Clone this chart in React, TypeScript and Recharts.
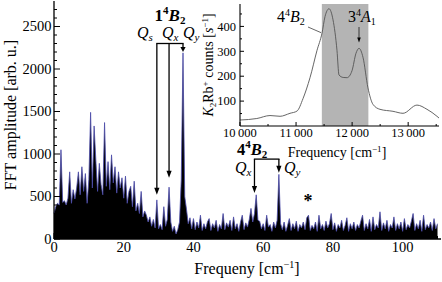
import {
  Area,
  ComposedChart,
  Line,
  LineChart,
  ReferenceArea,
  XAxis,
  YAxis,
} from "recharts";

// FFT spectrum, one value every 0.5 cm^-1 from 0 to 110
const fftStep = 0.5;
const fftAmplitude = [
  300, 380, 420, 400, 1050, 430, 450, 400, 480, 790, 420, 580, 470, 600, 790, 520, 850, 560, 770, 420,
  700, 1490, 600, 1330, 930, 560, 890, 640, 520, 1370, 620, 910, 580, 990, 660, 850, 540, 790, 600, 720,
  480, 740, 420, 560, 620, 380, 680, 330, 420, 300, 560, 260, 330, 280, 200, 260, 150, 230, 130, 460,
  120, 170, 110, 380, 150, 230, 610, 200, 90, 150, 60, 110, 200, 700, 2190, 500, 350, 180, 250, 120,
  240, 110, 200, 130, 280, 100, 180, 120, 200, 240, 100, 180, 130, 220, 90, 170, 120, 300, 110, 190,
  140, 220, 100, 260, 120, 180, 90, 200, 280, 110, 190, 140, 230, 360, 200, 300, 520, 220, 210, 120,
  180, 100, 280, 140, 170, 90, 200, 130, 220, 760, 180, 110, 200, 90, 160, 240, 100, 180, 120, 210,
  90, 170, 130, 200, 110, 250, 280, 100, 160, 120, 200, 90, 280, 120, 170, 100, 210, 130, 180, 300,
  110, 190, 90, 170, 130, 220, 100, 160, 250, 90, 180, 120, 200, 100, 170, 130, 210, 280, 100, 180,
  120, 230, 90, 260, 110, 170, 130, 320, 100, 190, 120, 220, 90, 170, 130, 260, 100, 180, 120, 200,
  90, 240, 110, 170, 130, 210, 300, 100, 180, 120, 220, 90, 280, 110, 170, 130, 200, 100, 240, 120, 180,
];
const fftXTicks = [0, 5, 10, 15, 20, 25, 30, 35, 40, 45, 50, 55, 60, 65, 70, 75, 80, 85, 90, 95, 100, 105, 110];
const fftXMajor = [0, 20, 40, 60, 80, 100];
const fftYTicks = [0, 100, 200, 300, 400, 500, 600, 700, 800, 900, 1000, 1100, 1200, 1300, 1400, 1500, 1600, 1700, 1800, 1900, 2000, 2100, 2200, 2300, 2400, 2500, 2600, 2700];
const fftYMajor = [0, 500, 1000, 1500, 2000, 2500];

// inset: ion signal vs laser frequency
const insetFreq = [10000, 10300, 10535, 10714, 10892, 11017, 11124, 11249, 11374, 11463, 11516, 11588, 11659, 11730, 11766, 11840, 11909, 11998, 12069, 12123, 12194, 12283, 12372, 12497, 12729, 12908, 13157, 13336, 13514, 13550];
const insetCounts = [24, 30, 42, 39, 51, 60, 110, 194, 304, 373, 439, 471, 427, 304, 205, 195, 194, 222, 292, 312, 276, 153, 87, 67, 59, 51, 84, 67, 39, 32];
const insetXTicks = [10000, 10500, 11000, 11500, 12000, 12500, 13000, 13500];
const insetXMajor = [10000, 11000, 12000, 13000];
const insetYTicks = [50, 100, 150, 200, 250, 300, 350, 400, 450];
const insetYMajor = [100, 200, 300, 400];
const insetBand = [11460, 12290];

const fftData = fftAmplitude.map((amp, i) => ({ f: i * fftStep, amp }));
const insetData = insetFreq.map((f, i) => ({ f, c: insetCounts[i] }));

const serif = "Liberation Serif, serif";

// layout of the main plot and the inset (used by annotations)
const main = { left: 54, top: 1, width: 387, height: 238, xMax: 111, yMax: 2800 };
const inset = { left: 240, top: 4, width: 199, height: 122, x0: 10000, x1: 13550, yMax: 490 };
const mx = (f: number) => main.left + (f / main.xMax) * main.width;
const my = (v: number) => main.top + (1 - v / main.yMax) * main.height;
const ix = (f: number) => inset.left + ((f - inset.x0) / (inset.x1 - inset.x0)) * inset.width;
const iy = (v: number) => inset.top + (1 - v / inset.yMax) * inset.height;

const makeTick =
  (
    side: "bottom" | "top" | "left" | "right",
    majors: number[],
    majorLen: number,
    minorLen: number,
    label?: (v: number) => string,
    fontSize = 14,
    gap = 2
  ) =>
  (props: any) => {
    const { x, y, payload } = props;
    const v = payload.value;
    const isMajor = majors.includes(v);
    const len = isMajor ? majorLen : minorLen;
    let line;
    if (side === "bottom") line = <line x1={x} x2={x} y1={y} y2={y - len} stroke="#000" />;
    else if (side === "top") line = <line x1={x} x2={x} y1={y} y2={y + len} stroke="#000" />;
    else if (side === "left") line = <line x1={x} x2={x + len} y1={y} y2={y} stroke="#000" />;
    else line = <line x1={x} x2={x - len} y1={y} y2={y} stroke="#000" />;
    let txt = null;
    if (label && isMajor) {
      if (side === "bottom")
        txt = (
          <text x={x} y={y + gap + fontSize * 0.72} textAnchor="middle" fontSize={fontSize} fontFamily={serif} fill="#000">
            {label(v)}
          </text>
        );
      else if (side === "left")
        txt = (
          <text x={x - gap} y={y + fontSize * 0.34} textAnchor="end" fontSize={fontSize} fontFamily={serif} fill="#000">
            {label(v)}
          </text>
        );
    }
    return (
      <g>
        {line}
        {txt}
      </g>
    );
  };

const Arrow = ({ x, y1, y2, w = 1.3, head = 7, half = 2.6 }: any) => (
  <g>
    <line x1={x} x2={x} y1={y1} y2={y2 - head + 1} stroke="#000" strokeWidth={w} />
    <path d={`M${x - half},${y2 - head} L${x + half},${y2 - head} L${x},${y2} Z`} fill="#000" />
  </g>
);

const thin = "\u2009";

const App = () => {
  const axisLine = { stroke: "#000", strokeWidth: 1.3 };
  const insetAxisLine = { stroke: "#000", strokeWidth: 1.1 };
  return (
    <div style={{ position: "relative", width: 442, height: 282, background: "#fff", fontFamily: serif }}>
      <style>{`body{margin:0}`}</style>
      <div style={{ position: "absolute", left: 0, top: 0 }}>
        <ComposedChart width={442} height={282} data={fftData} margin={{ top: 1, right: 1, bottom: 0, left: 0 }}>
          <XAxis
            xAxisId="b"
            dataKey="f"
            type="number"
            domain={[0, main.xMax]}
            ticks={fftXTicks}
            interval={0}
            height={43}
            tickSize={0}
            tickMargin={0}
            tickLine={false}
            axisLine={axisLine}
            tick={makeTick("bottom", fftXMajor, 6, 3, (v) => String(v), 14.5, 3)}
          />
          <XAxis
            xAxisId="t"
            orientation="top"
            dataKey="f"
            type="number"
            domain={[0, main.xMax]}
            ticks={fftXTicks}
            interval={0}
            height={0}
            tickSize={0}
            tickMargin={0}
            tickLine={false}
            axisLine={axisLine}
            tick={makeTick("top", fftXMajor, 6, 3)}
          />
          <YAxis
            yAxisId="l"
            type="number"
            domain={[0, main.yMax]}
            ticks={fftYTicks}
            interval={0}
            width={54}
            tickSize={0}
            tickMargin={0}
            tickLine={false}
            axisLine={axisLine}
            tick={makeTick("left", fftYMajor, 6, 3, (v) => String(v), 14.5, 2.5)}
          />
          <YAxis
            yAxisId="r"
            orientation="right"
            type="number"
            domain={[0, main.yMax]}
            ticks={fftYTicks}
            interval={0}
            width={0}
            tickSize={0}
            tickMargin={0}
            tickLine={false}
            axisLine={axisLine}
            tick={makeTick("right", fftYMajor, 6, 3)}
          />
          <Area
            xAxisId="b"
            yAxisId="l"
            type="linear"
            dataKey="amp"
            stroke="#4a4aaa"
            strokeWidth={0.8}
            fill="#000"
            fillOpacity={1}
            dot={false}
            activeDot={false}
            isAnimationActive={false}
          />
        </ComposedChart>
      </div>

      <div style={{ position: "absolute", left: 200, top: 0 }}>
        <LineChart width={242} height={165} data={insetData} margin={{ top: 4, right: 3, bottom: 0, left: 0 }}>
          <XAxis
            xAxisId="b"
            dataKey="f"
            type="number"
            domain={[inset.x0, inset.x1]}
            ticks={insetXTicks}
            interval={0}
            height={39}
            tickSize={0}
            tickMargin={0}
            tickLine={false}
            axisLine={insetAxisLine}
            tick={makeTick("bottom", insetXMajor, 4, 2, (v) => String(v).replace(/(\d)(\d{3})$/, `$1${thin}$2`), 12.5, 2)}
          />
          <XAxis
            xAxisId="t"
            orientation="top"
            dataKey="f"
            type="number"
            domain={[inset.x0, inset.x1]}
            ticks={insetXTicks}
            interval={0}
            height={0}
            tickSize={0}
            tickMargin={0}
            tickLine={false}
            axisLine={insetAxisLine}
            tick={makeTick("top", insetXMajor, 4, 2)}
          />
          <YAxis
            yAxisId="l"
            type="number"
            domain={[0, inset.yMax]}
            ticks={insetYTicks}
            interval={0}
            width={40}
            tickSize={0}
            tickMargin={0}
            tickLine={false}
            axisLine={insetAxisLine}
            tick={makeTick("left", insetYMajor, 4, 2, (v) => String(v), 12.5, 4)}
          />
          <YAxis
            yAxisId="r"
            orientation="right"
            type="number"
            domain={[0, inset.yMax]}
            ticks={insetYTicks}
            interval={0}
            width={0}
            tickSize={0}
            tickMargin={0}
            tickLine={false}
            axisLine={insetAxisLine}
            tick={makeTick("right", insetYMajor, 4, 2)}
          />
          <ReferenceArea xAxisId="b" yAxisId="l" x1={inset.x0} x2={inset.x1} y1={0} y2={inset.yMax} fill="#fff" fillOpacity={1} stroke="none" />
          <ReferenceArea xAxisId="b" yAxisId="l" x1={insetBand[0]} x2={insetBand[1]} y1={0} y2={inset.yMax} fill="#b4b4b4" fillOpacity={1} stroke="none" />
          <Line
            xAxisId="b"
            yAxisId="l"
            type="monotone"
            dataKey="c"
            stroke="#555"
            strokeWidth={0.9}
            dot={false}
            activeDot={false}
            isAnimationActive={false}
          />
        </LineChart>
      </div>

      <svg width={442} height={282} style={{ position: "absolute", left: 0, top: 0, pointerEvents: "none" }} fontFamily={serif}>
        {/* axis titles */}
        <text x={247} y={274} textAnchor="middle" fontSize={16}>
          Frequeny [cm<tspan fontSize={10} dy={-6}>−1</tspan>
          <tspan dy={6}>]</tspan>
        </text>
        <text transform="translate(16,115) rotate(-90)" textAnchor="middle" fontSize={16}>
          FFT amplitude [arb. u.]
        </text>
        <text x={337} y={157} textAnchor="middle" fontSize={14}>
          Frequency [cm<tspan fontSize={9} dy={-5}>−1</tspan>
          <tspan dy={5}>]</tspan>
        </text>
        <text transform="translate(213,65) rotate(-90)" textAnchor="middle" fontSize={14}>
          <tspan fontStyle="italic">K</tspan>
          <tspan fontSize={9} dy={3}>2</tspan>
          <tspan dy={-3}>Rb</tspan>
          <tspan fontSize={9} dy={-5}>+</tspan>
          <tspan dy={5}> counts [</tspan>
          <tspan fontStyle="italic">s</tspan>
          <tspan fontSize={9} dy={-5}>−1</tspan>
          <tspan dy={5}>]</tspan>
        </text>

        {/* 1 4B2 bracket */}
        <text x={170} y={21} textAnchor="middle" fontSize={17} fontWeight="bold">
          1<tspan fontSize={11} dy={-7}>4</tspan>
          <tspan fontStyle="italic" dy={7}>B</tspan>
          <tspan fontSize={11} dy={3}>2</tspan>
        </text>
        <text x={137} y={38} fontSize={16} fontStyle="italic">
          Q<tspan fontSize={11} dy={3}>s</tspan>
        </text>
        <text x={162} y={38} fontSize={16} fontStyle="italic">
          Q<tspan fontSize={11} dy={3}>x</tspan>
        </text>
        <text x={183} y={38} fontSize={16} fontStyle="italic">
          Q<tspan fontSize={11} dy={3}>y</tspan>
        </text>
        <line x1={mx(29.5) - 0.6} x2={mx(37) + 0.6} y1={my(2300)} y2={my(2300)} stroke="#000" strokeWidth={1.3} />
        <Arrow x={mx(29.5)} y1={my(2300)} y2={my(520)} />
        <Arrow x={mx(33)} y1={my(2300)} y2={my(720)} />
        <Arrow x={mx(37)} y1={my(2300)} y2={my(2200)} head={5} />

        {/* 4 4B2 bracket */}
        <text x={237} y={155} fontSize={16.5} fontWeight="bold">
          4<tspan fontSize={11} dy={-7}>4</tspan>
          <tspan fontStyle="italic" dy={7}>B</tspan>
          <tspan fontSize={11} dy={3}>2</tspan>
        </text>
        <text x={235} y={173} fontSize={16} fontStyle="italic">
          Q<tspan fontSize={11} dy={3}>x</tspan>
        </text>
        <text x={284} y={173} fontSize={16} fontStyle="italic">
          Q<tspan fontSize={11} dy={3}>y</tspan>
        </text>
        <line x1={mx(57.5) - 0.6} x2={mx(64.5) + 0.6} y1={my(940)} y2={my(940)} stroke="#000" strokeWidth={1.3} />
        <Arrow x={mx(57.5)} y1={my(940)} y2={my(540)} />
        <Arrow x={mx(64.5)} y1={my(940)} y2={my(780)} />

        <text x={308} y={207} textAnchor="middle" fontSize={18} fontWeight="bold">
          *
        </text>

        {/* inset labels */}
        <text x={277} y={22} fontSize={16}>
          4<tspan fontSize={10} dy={-6}>4</tspan>
          <tspan fontStyle="italic" dy={6}>B</tspan>
          <tspan fontSize={10} dy={3}>2</tspan>
        </text>
        <line x1={308} y1={27} x2={ix(11445)} y2={iy(375)} stroke="#000" strokeWidth={0.6} />
        <text x={348} y={22} fontSize={16}>
          3<tspan fontSize={10} dy={-6}>4</tspan>
          <tspan fontStyle="italic" dy={6}>A</tspan>
          <tspan fontSize={10} dy={3}>1</tspan>
        </text>
        <Arrow x={ix(12123)} y1={27} y2={iy(335)} w={0.7} head={5} half={1.8} />
      </svg>
    </div>
  );
};

export default App;
